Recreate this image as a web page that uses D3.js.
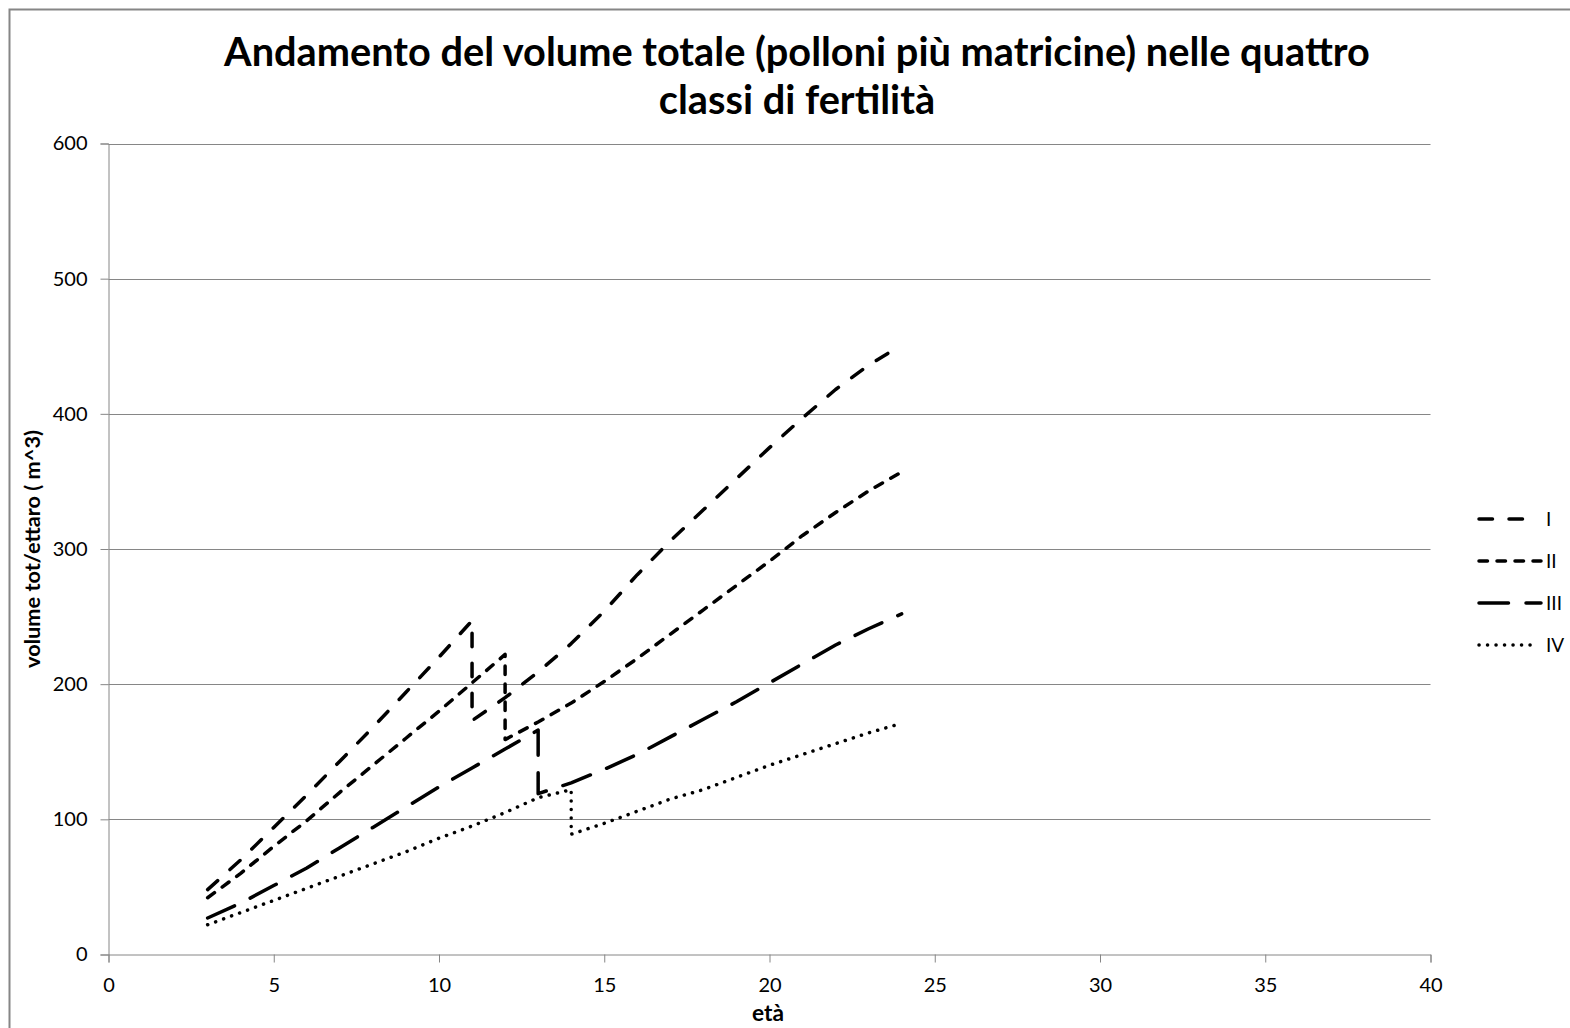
<!DOCTYPE html>
<html>
<head>
<meta charset="utf-8">
<script src="https://cdn.jsdelivr.net/npm/d3@7"></script>
<style>
  html, body { margin: 0; padding: 0; background: #fff; }
  svg { display: block; }
  text { font-family: Lato, "Open Sans", sans-serif; fill: #000; }
</style>
</head>
<body>
<svg id="chart" width="1570" height="1028"></svg>
<script>
// Volume totale (m^3/ha) per età, classi di fertilità I–IV.
// Each class repeats the age of the cut (taglio delle matricine) so the drop is vertical.
const agesI   = [3,4,5,6,7,8,9,10,11,11,12,13,14,15,16,17,18,19,20,21,22,23,24];
const volI    = [48,70,94,118,143,168,194,220,247,173,190,209,230,254,281,306,329,352,375,397,418,436,451];

const agesII  = [3,4,5,6,7,8,9,10,11,12,12,13,14,15,16,17,18,19,20,21,22,23,24];
const volII   = [42,60,80,99,120,140,160,180,201,222,159,172,186,202,219,237,255,273,291,310,327,343,357];

const agesIII = [3,4,5,6,7,8,9,10,11,12,13,13,14,15,16,17,18,19,20,21,22,23,24];
const volIII  = [27,38,51,64,79,94,109,124,138,152,166,119,127,137,148,161,174,187,201,215,229,241,252];

const agesIV  = [3,4,5,6,7,8,9,10,11,12,13,14,14,15,16,17,18,19,20,21,22,23,24];
const volIV   = [22,31,40,49,58,67,76,86,95,105,116,122,89,97,106,115,122,131,140,148,156,164,171];

const classNames = ["I", "II", "III", "IV"];
const xTicks = [0, 5, 10, 15, 20, 25, 30, 35, 40];
const yTicks = [0, 100, 200, 300, 400, 500, 600];

const titleLines = ["Andamento del volume totale (polloni più matricine) nelle quattro", "classi di fertilità"];
const xTitle = "età";
const yTitle = "volume tot/ettaro ( m^3)";

const series = [
  { name: classNames[0], ages: agesI,   vols: volI,   dash: "13.5 16.5", legendEnd: 1527 },
  { name: classNames[1], ages: agesII,  vols: volII,  dash: "8.5 9.5",   legendEnd: 1541 },
  { name: classNames[2], ages: agesIII, vols: volIII, dash: "29.5 17.5", legendEnd: 1541 },
  { name: classNames[3], ages: agesIV,  vols: volIV,  dash: "0.1 8.4",   legendEnd: 1536 }
];

const svg = d3.select("#chart");
const plot = { left: 108.5, top: 143.5, width: 1322, height: 811 };
const gridColor = "#868686";

// Chart frame
svg.append("rect")
  .attr("x", 9.5).attr("y", 9.5)
  .attr("width", 1600).attr("height", 1100)
  .attr("fill", "#fff")
  .attr("stroke", gridColor).attr("stroke-width", 2);

const x = d3.scaleLinear().domain([0, 40]).range([plot.left, plot.left + plot.width]);
const y = d3.scaleLinear().domain([0, 600]).range([plot.top + plot.height, plot.top]);

// Horizontal gridlines
svg.append("g")
  .selectAll("line")
  .data(yTicks.filter(d => d > 0))
  .join("line")
  .attr("x1", plot.left).attr("x2", plot.left + plot.width)
  .attr("y1", d => Math.round(y(d)) + 0.5).attr("y2", d => Math.round(y(d)) + 0.5)
  .attr("stroke", gridColor).attr("stroke-width", 1);

// Axes
const xAxis = svg.append("g")
  .attr("transform", `translate(0,${plot.top + plot.height})`)
  .call(d3.axisBottom(x).tickValues(xTicks).tickSize(8).tickPadding(11).tickFormat(d3.format("d")));
const yAxis = svg.append("g")
  .attr("transform", `translate(${plot.left},0)`)
  .call(d3.axisLeft(y).tickValues(yTicks).tickSize(8).tickPadding(13).tickFormat(d3.format("d")));

[xAxis, yAxis].forEach(g => {
  g.select(".domain").attr("stroke", gridColor).attr("stroke-width", 1);
  g.selectAll(".tick line").attr("stroke", gridColor).attr("stroke-width", 1);
  g.selectAll(".tick text")
    .attr("fill", "#222")
    .style("font-family", "Lato, 'Open Sans', sans-serif")
    .style("font-size", "20px");
});
xAxis.selectAll(".tick text").attr("dy", "0.9em");

// Series lines
const line = d3.line()
  .x(d => x(d[0]))
  .y(d => y(d[1]))
  .curve(d3.curveLinear);

svg.append("g")
  .selectAll("path")
  .data(series)
  .join("path")
  .attr("d", s => line(s.ages.map((a, i) => [a, s.vols[i]])))
  .attr("fill", "none")
  .attr("stroke", "#000")
  .attr("stroke-width", 3.5)
  .attr("stroke-linecap", "round")
  .attr("stroke-linejoin", "round")
  .attr("stroke-dasharray", s => s.dash);

// Legend
const legendY = [519, 561, 603, 645];
const legend = svg.append("g");
series.forEach((s, i) => {
  legend.append("line")
    .attr("x1", 1479).attr("x2", s.legendEnd)
    .attr("y1", legendY[i]).attr("y2", legendY[i])
    .attr("stroke", "#000").attr("stroke-width", 3.5)
    .attr("stroke-linecap", "round")
    .attr("stroke-dasharray", s.dash);
  legend.append("text")
    .attr("x", 1546).attr("y", legendY[i])
    .attr("dy", "0.36em")
    .style("font-size", "19px")
    .attr("fill", "#222")
    .text(s.name);
});

// Fit a text element to a target width by adjusting its font size
function fitWidth(sel, target) {
  const fs = parseFloat(sel.style("font-size"));
  const w = sel.node().getComputedTextLength();
  sel.style("font-size", (fs * target / w).toFixed(2) + "px");
}

// Title
const t1 = svg.append("text")
  .attr("x", 797).attr("y", 66)
  .attr("text-anchor", "middle")
  .style("font-weight", "bold").style("font-size", "34px")
  .text(titleLines[0]);
fitWidth(t1, 1146);
const t2 = svg.append("text")
  .attr("x", 797).attr("y", 114)
  .attr("text-anchor", "middle")
  .style("font-weight", "bold").style("font-size", t1.style("font-size"))
  .text(titleLines[1]);

// Axis titles
const xt = svg.append("text")
  .attr("x", 768).attr("y", 1021)
  .attr("text-anchor", "middle")
  .style("font-weight", "bold").style("font-size", "17px")
  .text(xTitle);
fitWidth(xt, 32);

const yt = svg.append("text")
  .attr("transform", `translate(40,549) rotate(-90)`)
  .attr("text-anchor", "middle")
  .style("font-weight", "bold").style("font-size", "17px")
  .text(yTitle);
fitWidth(yt, 238);
</script>
</body>
</html>
